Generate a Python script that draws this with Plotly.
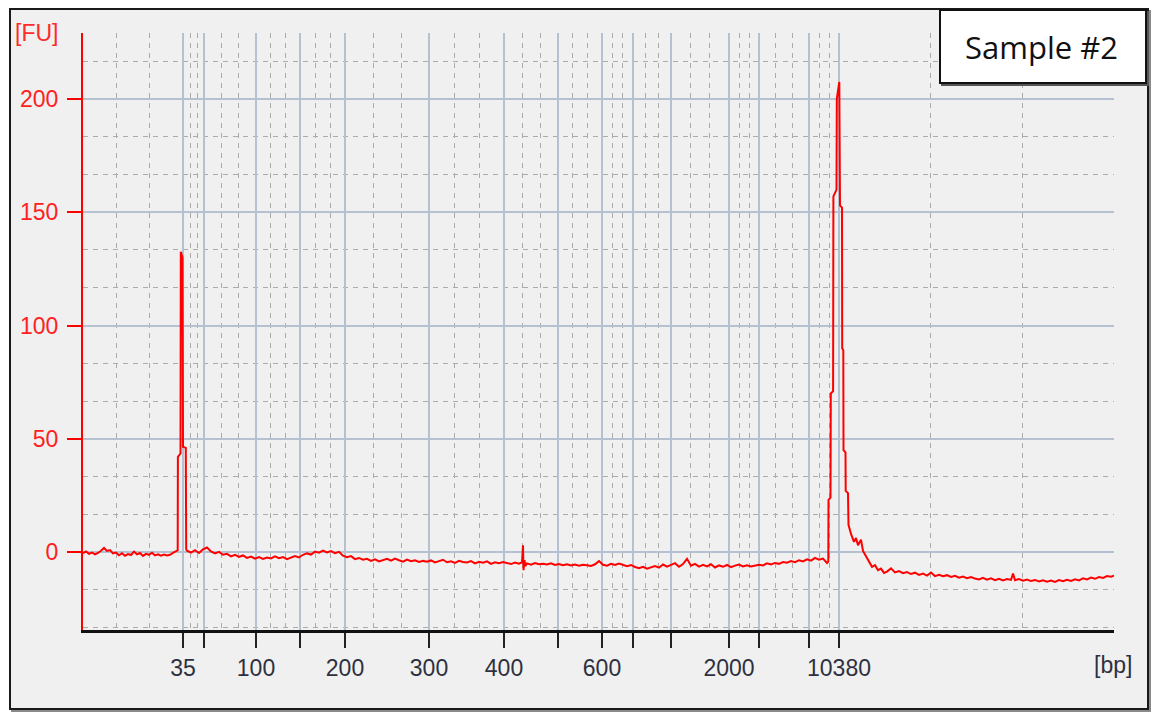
import plotly.graph_objects as go

# ---------------- data ----------------
ladder_bp = ["35", "50", "100", "150", "200", "300", "400", "500", "600",
             "700", "1000", "2000", "3000", "7000", "10380"]
ladder_time = [43.0, 45.1, 50.3, 54.7, 59.2, 67.6, 75.1, 80.5, 84.9,
               88.0, 91.8, 97.6, 100.6, 105.6, 108.6]
shown_bp = ["35", "100", "200", "300", "400", "600", "2000", "10380"]

fu_ticks = [0, 50, 100, 150, 200]
x_range = [33.0, 136.1]
y_range = [-34.4, 229.1]

# baseline before lower marker
t_pre = [33.0, 33.3, 33.6, 33.9, 34.2, 34.5, 34.8, 35.1, 35.4, 35.7, 36.0, 36.3,
         36.6, 36.9, 37.2, 37.5, 37.8, 38.1, 38.4, 38.7, 39.0, 39.3, 39.6, 39.9,
         40.2, 40.5, 40.8, 41.1, 41.4, 41.7, 42.0, 42.3]
fu_pre = [-0.5, 0.3, -0.8, -0.2, -1.0, -0.4, 0.6, 1.8, 0.5, 0.9, -0.6, -0.2,
          -1.4, -0.5, -1.6, -0.9, -1.3, 0.2, -1.0, -0.4, -1.7, -0.8, -1.2, -0.3,
          -1.5, -1.0, -1.6, -1.1, -1.5, -1.2, -0.4, 0.4]

# lower marker (35 bp)
t_lower = [42.47, 42.49, 42.75, 42.78, 42.95, 43.0, 43.28, 43.32]
fu_lower = [0.8, 42.0, 43.5, 132.5, 130.0, 46.5, 46.0, 1.2]

# baseline between markers
t_mid = [43.4, 43.8, 44.2, 44.6, 45.0, 45.4, 45.8, 46.2, 46.6, 47.0,
         47.4, 47.8, 48.2, 48.6, 49.0, 49.4, 49.8, 50.2, 50.6, 51.0,
         51.4, 51.8, 52.2, 52.6, 53.0, 53.4, 53.8, 54.2, 54.6, 55.0,
         55.4, 55.8, 56.2, 56.6, 57.0, 57.4, 57.8, 58.2, 58.6, 59.0,
         59.4, 59.8, 60.2, 60.6, 61.0, 61.4, 61.8, 62.2, 62.6, 63.0,
         63.4, 63.8, 64.2, 64.6, 65.0, 65.4, 65.8, 66.2, 66.6, 67.0,
         67.4, 67.8, 68.2, 68.6, 69.0, 69.4, 69.8, 70.2, 70.6, 71.0,
         71.4, 71.8, 72.2, 72.6, 73.0, 73.4, 73.8, 74.2, 74.6, 75.0,
         75.4, 75.8, 76.2, 76.6,
         76.9, 77.0, 77.05, 77.15, 77.25,
         77.4, 77.8, 78.2, 78.6, 79.0,
         79.4, 79.8, 80.2, 80.6, 81.0, 81.4, 81.8, 82.2, 82.6, 83.0,
         83.4, 83.8, 84.2, 84.6, 85.0, 85.4, 85.8, 86.2, 86.6, 87.0,
         87.4, 87.8, 88.2, 88.6, 89.0, 89.4, 89.8, 90.2, 90.6, 91.0,
         91.4, 91.8, 92.2, 92.6, 93.0, 93.4, 93.8, 94.2, 94.6, 95.0,
         95.4, 95.8, 96.2, 96.6, 97.0, 97.4, 97.8, 98.2, 98.6, 99.0,
         99.4, 99.8, 100.2, 100.6, 101.0, 101.4, 101.8, 102.2, 102.6, 103.0,
         103.4, 103.8, 104.2, 104.6, 105.0, 105.4, 105.8, 106.2, 106.6, 107.0,
         107.4]
fu_mid = [0.6, -0.2, 0.8, -0.4, 1.2, 2.0, 0.3, -0.6, 0.1, -1.2,
          -0.8, -1.9, -1.2, -2.1, -1.5, -2.6, -2.0, -2.9, -2.2, -3.0,
          -2.4, -2.8, -1.9, -2.7, -2.2, -3.1, -2.5, -1.8, -2.4, -1.2,
          -0.6, -1.1, 0.2, -0.3, 0.6, -0.2, 0.4, -0.5, 0.1, -1.6,
          -2.3, -1.8, -3.1, -2.6, -3.4, -3.0, -3.9, -3.2, -4.1, -3.5,
          -3.0, -3.8, -2.9, -3.6, -4.2, -3.3, -4.0, -3.6, -4.4, -3.9,
          -4.3, -3.7, -4.6, -4.0, -3.4, -4.5, -4.1, -4.8, -3.9, -4.4,
          -4.6, -4.0, -5.0, -4.3, -4.7, -4.1, -5.2, -4.5, -4.9, -4.4,
          -4.8, -5.3, -4.6, -5.1,
          -4.5, 3.0, -8.0, -3.6, -6.2,
          -5.0, -5.6, -4.9, -5.4, -5.2,
          -5.5, -5.0, -5.7, -5.3, -5.8, -5.4, -5.9, -5.5, -6.0, -5.6,
          -5.8, -6.1, -5.4, -4.0, -5.6, -6.0, -5.2, -5.7, -5.1, -5.8,
          -6.2, -5.7, -6.6, -7.1, -6.5, -7.3, -6.8, -6.2, -6.9, -5.5,
          -6.4, -5.8, -4.9, -6.5, -5.3, -3.0, -6.0, -5.2, -6.4, -5.6,
          -6.3, -5.4, -6.8, -5.9, -6.5, -5.7, -6.7, -6.0, -5.5, -6.3,
          -5.8, -6.4, -6.0, -5.6, -5.9, -5.0, -5.5, -4.8, -5.2, -4.4,
          -4.7, -4.0, -4.5, -3.6, -4.1, -3.2, -3.8, -2.6, -3.4, -2.9,
          -4.8]

# upper marker (10380 bp)
t_upper = [107.53, 107.55, 107.75, 107.78, 108.01, 108.04, 108.35, 108.38, 108.63,
           108.70, 108.90, 108.92, 109.03, 109.05, 109.25, 109.27, 109.50, 109.55]
fu_upper = [-4.2, 23.0, 24.0, 70.0, 71.0, 157.0, 160.0, 200.0, 207.5,
            153.0, 152.0, 90.0, 89.0, 45.0, 44.0, 27.0, 26.0, 12.0]

# tail after upper marker
t_post = [109.8, 110.1, 110.3, 110.5, 110.8, 111.0, 111.3, 111.6, 111.9, 112.2,
          112.5, 112.8, 113.1, 113.4, 113.8, 114.2, 114.6, 115.0, 115.4, 115.8,
          116.2, 116.6, 117.0, 117.4, 117.8, 118.2, 118.6, 119.0, 119.4, 119.8,
          120.2, 120.6, 121.0, 121.4, 121.8, 122.2, 122.6, 123.0, 123.4, 123.8,
          124.2, 124.6, 125.0, 125.4, 125.8, 126.0, 126.2, 126.6, 127.0, 127.4,
          127.8, 128.2, 128.6, 129.0, 129.4, 129.8, 130.2, 130.6, 131.0, 131.4,
          131.8, 132.2, 132.6, 133.0, 133.4, 133.8, 134.2, 134.6, 135.0, 135.4,
          135.8, 136.1]
fu_post = [8.0, 4.5, 6.2, 3.0, 5.5, 0.5, -2.0, -4.5, -6.5, -5.8,
           -8.0, -7.3, -9.2, -8.6, -7.2, -9.0, -8.4, -9.3, -8.8, -9.7,
           -9.1, -10.1, -9.5, -10.4, -9.0, -10.6, -10.0, -10.7, -10.2, -11.0,
           -10.5, -11.3, -10.8, -11.5, -11.0, -11.7, -12.1, -11.4, -12.2, -11.6,
           -12.4, -11.8, -12.5, -11.9, -12.3, -9.5, -12.4, -11.9, -12.6, -12.1,
           -12.8, -12.3, -13.0, -12.5, -13.1, -12.6, -13.2, -12.4, -12.9, -12.2,
           -12.7, -12.0, -12.5, -11.6, -12.1, -11.3, -11.8, -11.0, -11.4, -10.6,
           -10.9, -10.4]

time_s = t_pre + t_lower + t_mid + t_upper + t_post
fu = fu_pre + fu_lower + fu_mid + fu_upper + fu_post

# ---------------- layout helpers ----------------
# page pixel targets; the page body adds an 8px offset to the figure
OFF = 8
W, H = 1162, 720
PLOT_L, PLOT_R, PLOT_T, PLOT_B = 83, 1114, 33, 630   # page coordinates
ML = PLOT_L - OFF
MT = PLOT_T - OFF
MR = W - (PLOT_R - OFF)
MB = H - (PLOT_B - OFF)
PW, PH = PLOT_R - PLOT_L, PLOT_B - PLOT_T


def px(x):
    return (x - PLOT_L) / PW


def py(y):
    return (PLOT_B - y) / PH


edges = [x_range[0]] + ladder_time + [x_range[1]]
minor_x = [a + (b - a) * k / 3 for a, b in zip(edges[:-1], edges[1:]) for k in (1, 2)]
minor_y = [k * 50 / 3 for k in range(-2, 14) if k % 3]
tick_text = [b if b in shown_bp else "" for b in ladder_bp]

fig = go.Figure()
fig.add_trace(go.Scatter(x=time_s, y=fu, mode="lines",
                         line=dict(color="#ff0000", width=2),
                         hoverinfo="skip", showlegend=False))

major_grid = "#b5c0d1"
minor_grid = "#ababab"
tick_font = dict(family="Liberation Sans, Arial, sans-serif", size=23)

fig.update_layout(
    width=W, height=H,
    margin=dict(l=ML, r=MR, t=MT, b=MB, pad=0),
    paper_bgcolor="white",
    plot_bgcolor="#fbfbfb",
    showlegend=False,
    xaxis=dict(
        range=x_range, tickmode="array", tickvals=ladder_time, ticktext=tick_text,
        ticks="outside", ticklen=15, tickwidth=2, tickcolor="#222222",
        tickfont=dict(color="#2e3040", **tick_font),
        showline=True, linecolor="#111111", linewidth=3,
        showgrid=True, gridcolor=major_grid, gridwidth=2, zeroline=False,
        minor=dict(tickmode="array", tickvals=minor_x, showgrid=True,
                   gridcolor=minor_grid, griddash="5px,5px", gridwidth=1, ticks=""),
    ),
    yaxis=dict(
        range=y_range, tickmode="array", tickvals=fu_ticks,
        ticks="outside", ticklen=14, tickwidth=2, tickcolor="#ff0000",
        ticklabelstandoff=4,
        tickfont=dict(color="#ff2020", **tick_font),
        showline=True, linecolor="#ff0000", linewidth=2,
        showgrid=True, gridcolor=major_grid, gridwidth=2, zeroline=False,
        minor=dict(tickmode="array", tickvals=minor_y, showgrid=True,
                   gridcolor=minor_grid, griddash="5px,5px", gridwidth=1, ticks=""),
    ),
)

shapes = [
    # outer frame shadow + frame
    dict(type="rect", xref="paper", yref="paper", layer="below",
         x0=px(12), x1=px(1150), y0=py(711), y1=py(11),
         line=dict(color="#8a8a8a", width=2), fillcolor="rgba(0,0,0,0)"),
    dict(type="rect", xref="paper", yref="paper", layer="below",
         x0=px(10), x1=px(1148), y0=py(709), y1=py(9),
         line=dict(color="#1a1a1a", width=2), fillcolor="#f0f0f0"),
    # sample label box (shadow + box)
    dict(type="rect", xref="paper", yref="paper", layer="above",
         x0=px(942), x1=px(1148), y0=py(85), y1=py(12),
         line=dict(color="#555555", width=2), fillcolor="#555555"),
    dict(type="rect", xref="paper", yref="paper", layer="above",
         x0=px(940), x1=px(1146), y0=py(83), y1=py(10),
         line=dict(color="#111111", width=2), fillcolor="white"),
]
fig.update_layout(shapes=shapes)

fig.add_annotation(text="Sample #2", xref="paper", yref="paper",
                   x=px(1041), y=py(47), xanchor="center", yanchor="middle",
                   showarrow=False,
                   font=dict(family="Open Sans, Lato, sans-serif", size=31, color="#111111"))
fig.add_annotation(text="[FU]", xref="paper", yref="paper",
                   x=px(36), y=py(33), xanchor="center", yanchor="middle",
                   showarrow=False, font=dict(color="#ff2a2a", **tick_font))
fig.add_annotation(text="[bp]", xref="paper", yref="paper",
                   x=px(1113), y=py(665), xanchor="center", yanchor="middle",
                   showarrow=False, font=dict(color="#2e3040", **tick_font))

fig.write_html("out.html")
